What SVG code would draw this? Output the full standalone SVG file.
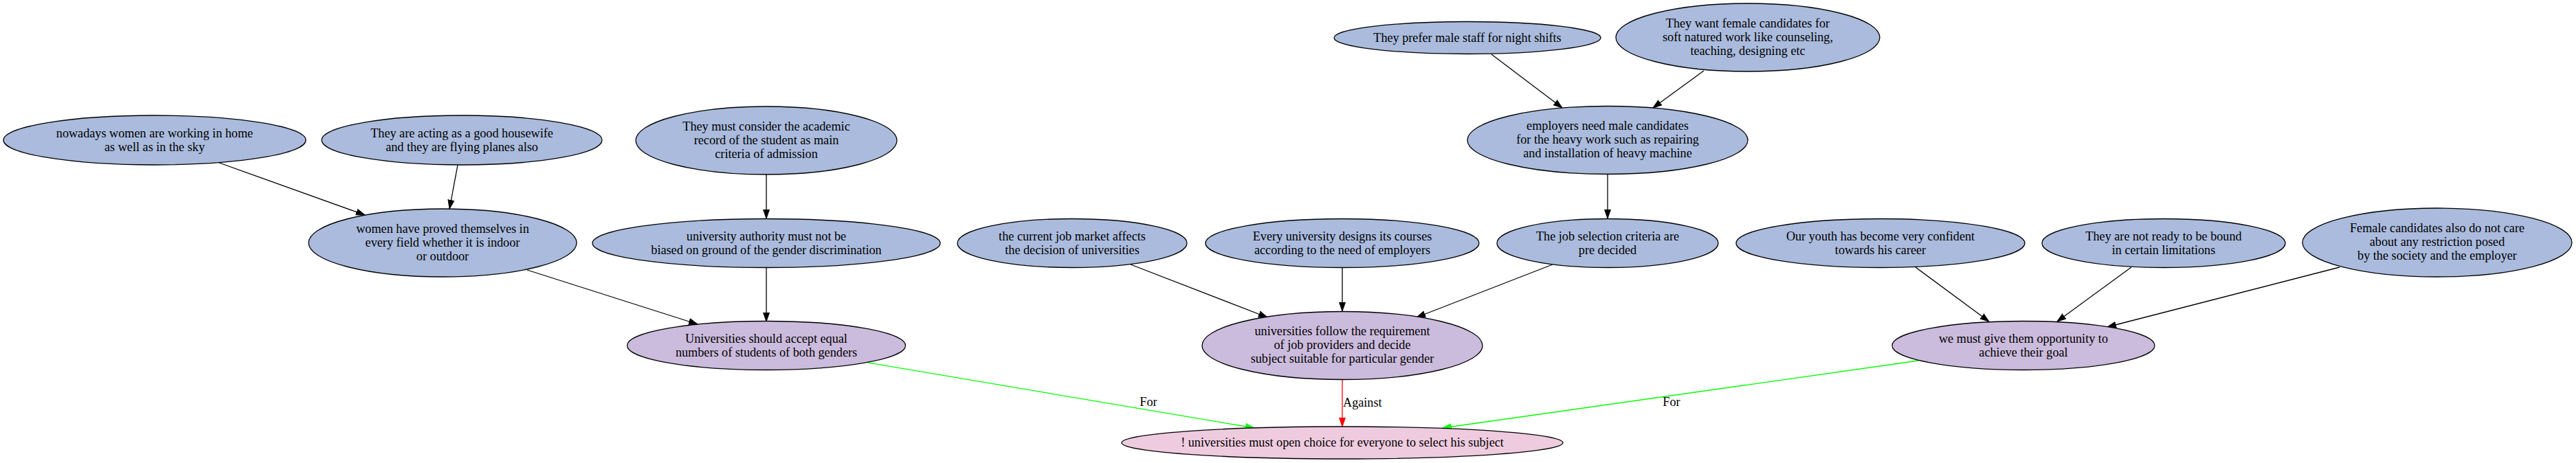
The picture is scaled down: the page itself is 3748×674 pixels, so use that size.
<svg xmlns="http://www.w3.org/2000/svg" width="3748" height="674" viewBox="0 0 3748 674">
<style>
text{font-family:"Liberation Serif","Times New Roman",serif;font-size:18.2px;fill:#000;text-anchor:middle}
.b{fill:#aabbdd;stroke:#000;stroke-width:1.3}
.p{fill:#cbbbdc;stroke:#000;stroke-width:1.3}
.k{fill:#efcbdf;stroke:#000;stroke-width:1.3}
.e{fill:none;stroke:#000;stroke-width:1.3}
.g{fill:none;stroke:#00ff00;stroke-width:1.3}
.r{fill:none;stroke:#ff0000;stroke-width:1.3}
.lbl{text-anchor:start}
</style>
<defs>
<marker id="ab" markerUnits="userSpaceOnUse" markerWidth="14" markerHeight="10" refX="13" refY="5" orient="auto"><path d="M0,0.5 L13,5 L0,9.5 z" fill="#000" stroke="#000"/></marker>
<marker id="ag" markerUnits="userSpaceOnUse" markerWidth="14" markerHeight="10" refX="13" refY="5" orient="auto"><path d="M0,0.5 L13,5 L0,9.5 z" fill="#00ff00" stroke="#00ff00"/></marker>
<marker id="ar" markerUnits="userSpaceOnUse" markerWidth="14" markerHeight="10" refX="13" refY="5" orient="auto"><path d="M0,0.5 L13,5 L0,9.5 z" fill="#ff0000" stroke="#ff0000"/></marker>
</defs>
<rect width="3748" height="674" fill="#fff"/>
<g id="connectors">
<line class="e" x1="319" y1="237" x2="531" y2="313" marker-end="url(#ab)"/>
<line class="e" x1="666" y1="240" x2="654" y2="304" marker-end="url(#ab)"/>
<line class="e" x1="1115" y1="254" x2="1115" y2="318" marker-end="url(#ab)"/>
<line class="e" x1="2170" y1="79" x2="2273" y2="157" marker-end="url(#ab)"/>
<line class="e" x1="2479" y1="103" x2="2405" y2="157" marker-end="url(#ab)"/>
<line class="e" x1="2339" y1="253" x2="2339" y2="318" marker-end="url(#ab)"/>
<line class="e" x1="767" y1="393" x2="1015" y2="472" marker-end="url(#ab)"/>
<line class="e" x1="1115" y1="389" x2="1115" y2="468" marker-end="url(#ab)"/>
<line class="e" x1="1645" y1="385" x2="1844" y2="462" marker-end="url(#ab)"/>
<line class="e" x1="1953" y1="389" x2="1953" y2="453" marker-end="url(#ab)"/>
<line class="e" x1="2259" y1="385" x2="2061" y2="462" marker-end="url(#ab)"/>
<line class="e" x1="2787" y1="389" x2="2894" y2="468" marker-end="url(#ab)"/>
<line class="e" x1="3101" y1="389" x2="2993" y2="468" marker-end="url(#ab)"/>
<line class="e" x1="3404" y1="389" x2="3066" y2="476" marker-end="url(#ab)"/>
<line class="g" x1="1263" y1="528" x2="1825" y2="623" marker-end="url(#ag)"/>
<line class="r" x1="1953" y1="552" x2="1953" y2="621" marker-end="url(#ar)"/>
<line class="g" x1="2791" y1="525" x2="2099" y2="623" marker-end="url(#ag)"/>
<text x="1671" y="591">For</text>
<text class="lbl" x="1954" y="592">Against</text>
<text x="2432" y="591">For</text>
</g>
<g id="n1"><ellipse class="b" cx="225" cy="204" rx="220" ry="36"/><text x="225" y="199.5">nowadays women are working in home</text><text x="225" y="219.5">as well as in the sky</text></g>
<g id="n2"><ellipse class="b" cx="672" cy="204" rx="204" ry="36"/><text x="672" y="199.5">They are acting as a good housewife</text><text x="672" y="219.5">and they are flying planes also</text></g>
<g id="n3"><ellipse class="b" cx="1115" cy="204.5" rx="190" ry="49.5"/><text x="1115" y="189.5">They must consider the academic</text><text x="1115" y="209.5">record of the student as main</text><text x="1115" y="229.5">criteria of admission</text></g>
<g id="n4"><ellipse class="b" cx="2135" cy="55" rx="194" ry="23.5"/><text x="2135" y="60.5">They prefer male staff for night shifts</text></g>
<g id="n5"><ellipse class="b" cx="2543" cy="54.5" rx="192" ry="49.5"/><text x="2543" y="39.5">They want female candidates for</text><text x="2543" y="59.5">soft natured work like counseling,</text><text x="2543" y="79.5">teaching, designing etc</text></g>
<g id="n6"><ellipse class="b" cx="2339" cy="204" rx="204" ry="49.5"/><text x="2339" y="189">employers need male candidates</text><text x="2339" y="209">for the heavy work such as repairing</text><text x="2339" y="229">and installation of heavy machine</text></g>
<g id="n7"><ellipse class="b" cx="644" cy="353.5" rx="195" ry="49.5"/><text x="644" y="338.5">women have proved themselves in</text><text x="644" y="358.5">every field whether it is indoor</text><text x="644" y="378.5">or outdoor</text></g>
<g id="n8"><ellipse class="b" cx="1115" cy="354" rx="253" ry="35.5"/><text x="1115" y="349.5">university authority must not be</text><text x="1115" y="369.5">biased on ground of the gender discrimination</text></g>
<g id="n9"><ellipse class="b" cx="1560" cy="354" rx="167" ry="35.5"/><text x="1560" y="349.5">the current job market affects</text><text x="1560" y="369.5">the decision of universities</text></g>
<g id="n10"><ellipse class="b" cx="1953" cy="354" rx="199" ry="35.5"/><text x="1953" y="349.5">Every university designs its courses</text><text x="1953" y="369.5">according to the need of employers</text></g>
<g id="n11"><ellipse class="b" cx="2339" cy="354" rx="161" ry="35.5"/><text x="2339" y="349.5">The job selection criteria are</text><text x="2339" y="369.5">pre decided</text></g>
<g id="n12"><ellipse class="b" cx="2736" cy="354" rx="210" ry="35.5"/><text x="2736" y="349.5">Our youth has become very confident</text><text x="2736" y="369.5">towards his career</text></g>
<g id="n13"><ellipse class="b" cx="3148" cy="354" rx="177" ry="35.5"/><text x="3148" y="349.5">They are not ready to be bound</text><text x="3148" y="369.5">in certain limitations</text></g>
<g id="n14"><ellipse class="b" cx="3546" cy="353" rx="196" ry="50"/><text x="3546" y="338">Female candidates also do not care</text><text x="3546" y="358">about any restriction posed</text><text x="3546" y="378">by the society and the employer</text></g>
<g id="n15"><ellipse class="p" cx="1115" cy="503" rx="202.5" ry="35.5"/><text x="1115" y="498.5">Universities should accept equal</text><text x="1115" y="518.5">numbers of students of both genders</text></g>
<g id="n16"><ellipse class="p" cx="1953" cy="503" rx="204" ry="49.5"/><text x="1953" y="488">universities follow the requirement</text><text x="1953" y="508">of job providers and decide</text><text x="1953" y="528">subject suitable for particular gender</text></g>
<g id="n17"><ellipse class="p" cx="2944" cy="503" rx="191" ry="35.5"/><text x="2944" y="498.5">we must give them opportunity to</text><text x="2944" y="518.5">achieve their goal</text></g>
<g id="n18"><ellipse class="k" cx="1953" cy="644.5" rx="321" ry="23.5"/><text x="1953" y="650">! universities must open choice for everyone to select his subject</text></g>
</svg>
